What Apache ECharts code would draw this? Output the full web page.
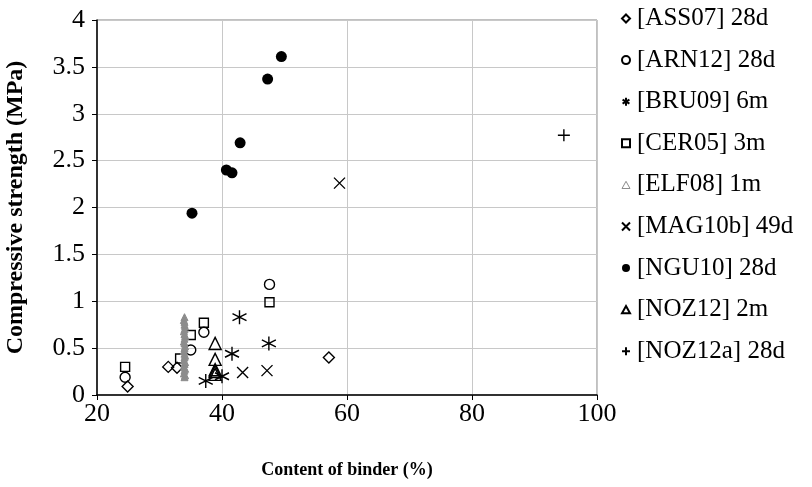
<!DOCTYPE html>
<html>
<head>
<meta charset="utf-8">
<script src="https://cdn.jsdelivr.net/npm/echarts@6/dist/echarts.min.js"></script>
<style>html,body{margin:0;padding:0;background:#fff}#c{width:812px;height:487px}</style>
</head>
<body>
<div id="c"></div>
<script>
// Data (x = content of binder %, y = compressive strength MPa)
const ASS07 = [[24.9,0.09],[31.4,0.30],[32.8,0.29],[57.1,0.40]];
const ARN12 = [[24.5,0.19],[35.0,0.48],[37.1,0.67],[47.6,1.18]];
const BRU09 = [[37.4,0.15],[40.0,0.20],[41.6,0.44],[42.8,0.83],[47.5,0.55]];
const CER05 = [[24.5,0.30],[33.3,0.39],[35.0,0.64],[37.1,0.77],[47.6,0.99]];
const ELF08 = [[34.0,0.19],[34.1,0.21],[33.9,0.23],[34.0,0.26],[34.1,0.28],[33.9,0.30],[34.0,0.33],[34.1,0.35],[33.9,0.37],[34.0,0.40],[34.1,0.42],[34.0,0.44],[33.9,0.47],[34.0,0.50],[34.1,0.52],[34.0,0.55],[33.9,0.57],[34.0,0.60],[34.1,0.63],[34.0,0.65],[33.9,0.68],[34.0,0.70],[34.1,0.73],[34.0,0.75],[34.0,0.78],[33.9,0.80],[34.0,0.83]];
const MAG10b = [[43.3,0.24],[47.2,0.26],[58.8,2.26]];
const NGU10 = [[35.2,1.94],[40.7,2.40],[41.6,2.37],[42.9,2.69],[47.3,3.37],[49.5,3.61]];
const NOZ12 = [[38.9,0.22],[38.9,0.25],[38.9,0.27],[38.9,0.38],[38.9,0.55]];
const NOZ12a = [[94.7,2.77]];
const seriesNames = ['[ASS07] 28d','[ARN12] 28d','[BRU09] 6m','[CER05] 3m','[ELF08] 1m','[MAG10b] 49d','[NGU10] 28d','[NOZ12] 2m','[NOZ12a] 28d'];
const xTicks = [20,40,60,80,100];
const yTicks = [0,0.5,1,1.5,2,2.5,3,3.5,4];

const SYM = {
  diamond: 'path://M5,0 L10,5 L5,10 L0,5 Z',
  triangle: 'path://M5,0 L10,9 L0,9 Z',
  square: 'path://M0,0 L10,0 L10,10 L0,10 Z',
  asterisk: 'path://M5,0 L5,10 M0.7,2.5 L9.3,7.5 M9.3,2.5 L0.7,7.5',
  cross: 'path://M0,0 L10,10 M10,0 L0,10',
  plus: 'path://M5,0 L5,10 M0,5 L10,5'
};
function open(name, data, symbol, size){
  return {name, type:'scatter', data, symbol, symbolSize:size,
    itemStyle:{color:'rgba(255,255,255,0)', borderColor:'#000', borderWidth:1.4, opacity:1}, emphasis:{disabled:true}};
}
const series = [
  open(seriesNames[0], ASS07, SYM.diamond, 11),
  open(seriesNames[1], ARN12, 'circle', 10),
  open(seriesNames[2], BRU09, SYM.asterisk, 14),
  open(seriesNames[3], CER05, SYM.square, 9),
  {name:seriesNames[4], type:'scatter', data:ELF08, symbol:SYM.triangle, symbolSize:7,
    itemStyle:{color:'#8c8c8c', borderColor:'#8c8c8c', borderWidth:1, opacity:1}, emphasis:{disabled:true}},
  open(seriesNames[5], MAG10b, SYM.cross, 11),
  {name:seriesNames[6], type:'scatter', data:NGU10, symbol:'circle', symbolSize:11,
    itemStyle:{color:'#000', opacity:1}, emphasis:{disabled:true}},
  open(seriesNames[7], NOZ12, SYM.triangle, 12),
  open(seriesNames[8], NOZ12a, SYM.plus, 12)
];

const chart = echarts.init(document.getElementById('c'), null, {renderer:'canvas'});
const font = 'Liberation Serif';
chart.setOption({
  animation:false,
  backgroundColor:'#fff',
  grid:{left:97, right:215, top:20, bottom:92, outerBoundsMode:'none', containLabel:false,
    show:true, borderColor:'#808080', borderWidth:1, backgroundColor:'transparent'},
  legend:{
    orient:'vertical', left:616, top:1, itemWidth:8, itemHeight:8, itemGap:16.6,
    data: seriesNames.map((n,i)=>({name:n, itemStyle: i===4?{color:'#fff',borderColor:'#8c8c8c',borderWidth:1}:(i===6?{color:'#000'}:undefined)})),
    textStyle:{fontFamily:font, fontSize:25, color:'#000', padding:[0,0,0,2]},
    selectedMode:false
  },
  xAxis:{
    type:'value', min:20, max:100, interval:20,
    name:'Content of binder (%)', nameLocation:'middle', nameGap:66,
    nameTextStyle:{fontFamily:font, fontSize:18, fontWeight:'bold', color:'#000'},
    axisLine:{show:true, onZero:false, lineStyle:{color:'#000', width:1.5}},
    axisTick:{show:true, length:5, lineStyle:{color:'#000'}},
    axisLabel:{fontFamily:font, fontSize:26, color:'#000', margin:6},
    splitLine:{show:true, lineStyle:{color:'#c8c8c8', width:1}}
  },
  yAxis:{
    type:'value', min:0, max:4, interval:0.5,
    name:'Compressive strength (MPa)', nameLocation:'middle', nameGap:69, nameRotate:90,
    nameTextStyle:{fontFamily:font, fontSize:24, fontWeight:'bold', color:'#000'},
    axisLine:{show:true, onZero:false, lineStyle:{color:'#000', width:1.5}},
    axisTick:{show:true, length:5, lineStyle:{color:'#000'}},
    axisLabel:{fontFamily:font, fontSize:26, color:'#000', margin:12},
    splitLine:{show:true, lineStyle:{color:'#c8c8c8', width:1}}
  },
  series
});
</script>
</body>
</html>
